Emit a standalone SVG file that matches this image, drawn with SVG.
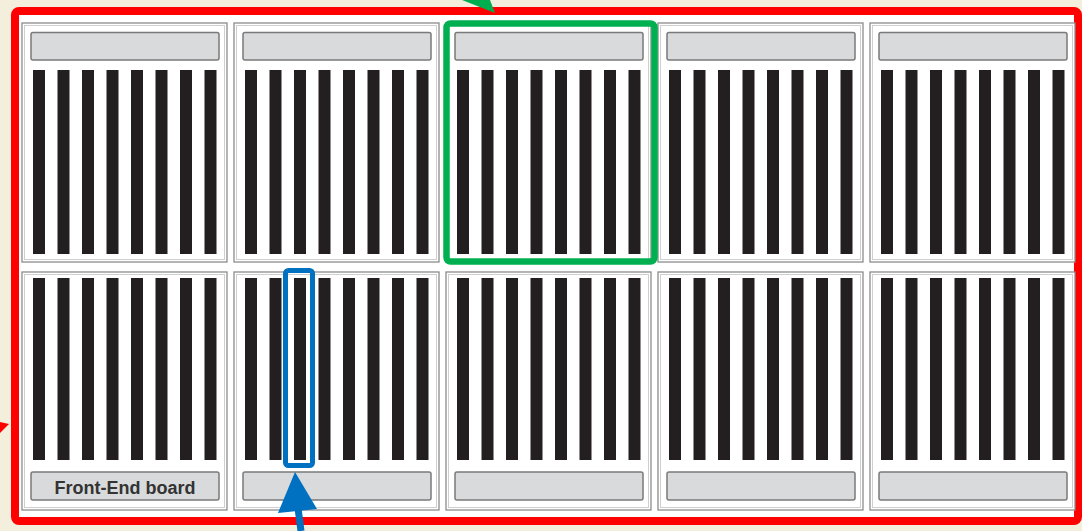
<svg xmlns="http://www.w3.org/2000/svg" xmlns:xlink="http://www.w3.org/1999/xlink" width="1082" height="531" viewBox="0 0 1082 531">
<style>
.frame{fill:#fff;stroke:#8c8c8c;stroke-width:1.3}
.inner{fill:none;stroke:#cfcfcf;stroke-width:1}
.bar{fill:#231f20}
.lbl{fill:#d9dadc;stroke:#7a7a7a;stroke-width:1.5}
.txt{font-family:"Liberation Sans",Arial,sans-serif;font-weight:bold;font-size:18px;fill:#333;text-anchor:middle}
</style>
<defs>
<g id="barsT">
<rect class="bar" x="11" y="47" width="12" height="184"/>
<rect class="bar" x="35.5" y="47" width="12" height="184"/>
<rect class="bar" x="60" y="47" width="12" height="184"/>
<rect class="bar" x="84.5" y="47" width="12" height="184"/>
<rect class="bar" x="109" y="47" width="12" height="184"/>
<rect class="bar" x="133.5" y="47" width="12" height="184"/>
<rect class="bar" x="158" y="47" width="12" height="184"/>
<rect class="bar" x="182.5" y="47" width="12" height="184"/>
</g>
<g id="modT">
<rect class="frame" x="0" y="0" width="205" height="239"/>
<rect class="inner" x="2.5" y="2.5" width="200" height="234"/>
<rect class="lbl" x="9" y="9.5" width="188" height="27.5" rx="2"/>
<use xlink:href="#barsT"/>
</g>
<g id="barsB">
<rect class="bar" x="11" y="6" width="12" height="182"/>
<rect class="bar" x="35.5" y="6" width="12" height="182"/>
<rect class="bar" x="60" y="6" width="12" height="182"/>
<rect class="bar" x="84.5" y="6" width="12" height="182"/>
<rect class="bar" x="109" y="6" width="12" height="182"/>
<rect class="bar" x="133.5" y="6" width="12" height="182"/>
<rect class="bar" x="158" y="6" width="12" height="182"/>
<rect class="bar" x="182.5" y="6" width="12" height="182"/>
</g>
<g id="modB">
<rect class="frame" x="0" y="0" width="205" height="238"/>
<rect class="inner" x="2.5" y="2.5" width="200" height="233"/>
<rect class="lbl" x="9" y="200" width="188" height="28" rx="2"/>
<use xlink:href="#barsB"/>
</g>
</defs>
<rect x="0" y="0" width="1082" height="531" fill="#f4efdc"/>
<rect id="detector" x="15" y="11" width="1063" height="510" rx="4" fill="#fff" stroke="#ff0000" stroke-width="8"/>
<g id="modules-top">
<g id="m1t"><use xlink:href="#modT" x="22" y="23"/></g>
<g id="m2t"><use xlink:href="#modT" x="234" y="23"/></g>
<g id="m3t"><use xlink:href="#modT" x="446" y="23"/></g>
<g id="m4t"><use xlink:href="#modT" x="658" y="23"/></g>
<g id="m5t"><use xlink:href="#modT" x="870" y="23"/></g>
</g>
<g id="modules-bottom">
<g id="m1b"><use xlink:href="#modB" x="22" y="272"/><text class="txt" x="125" y="494">Front-End board</text></g>
<g id="m2b"><use xlink:href="#modB" x="234" y="272"/></g>
<g id="m3b"><use xlink:href="#modB" x="446" y="272"/></g>
<g id="m4b"><use xlink:href="#modB" x="658" y="272"/></g>
<g id="m5b"><use xlink:href="#modB" x="870" y="272"/></g>
</g>
<g id="highlight-module"><rect x="446.5" y="23.5" width="208" height="238" rx="4" fill="none" stroke="#00b050" stroke-width="6.5"/></g>
<g id="highlight-strip"><rect x="285.5" y="270.5" width="27" height="195" rx="3" fill="none" stroke="#0070c0" stroke-width="5"/></g>
<g id="connectors">
<polygon points="462,0 495,13 490,0" fill="#00b050"/>
<polygon points="0,422 9,424 0,433" fill="#ff0000"/>
<line x1="301" y1="531" x2="297" y2="500" stroke="#0070c0" stroke-width="7"/>
<polygon points="295,472 317,509 278,513" fill="#0070c0"/>
</g>
</svg>
